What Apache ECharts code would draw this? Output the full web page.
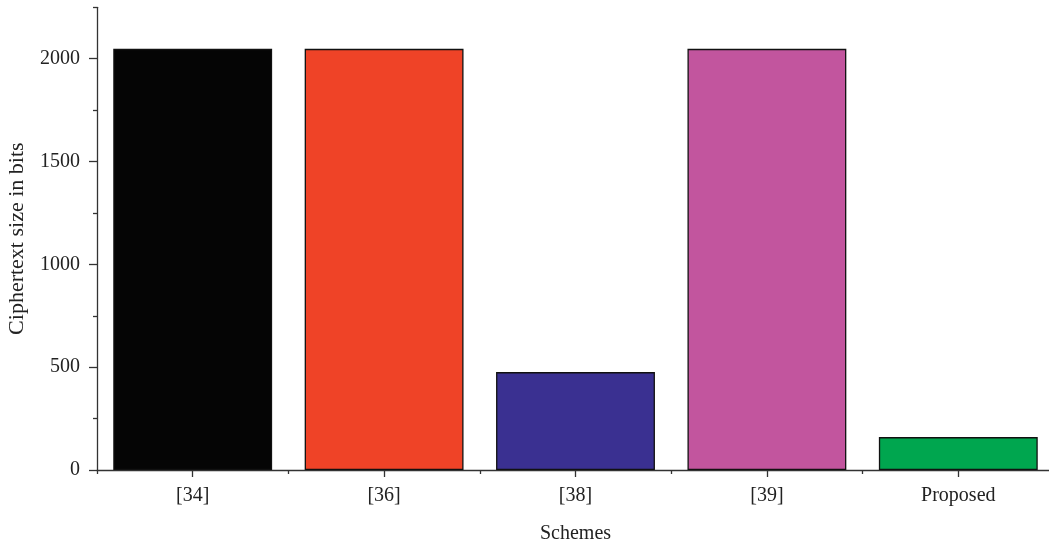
<!DOCTYPE html>
<html>
<head>
<meta charset="utf-8">
<script src="https://cdn.jsdelivr.net/npm/echarts@6/dist/echarts.min.js"></script>
<style>html,body{margin:0;padding:0;background:#fff}#c{width:1049px;height:545px}</style>
</head>
<body>
<div id="c"></div>
<script>
var categories = ['[34]', '[36]', '[38]', '[39]', 'Proposed'];
var values = [2048, 2048, 476, 2048, 160];
var colors = ['#050505', '#EF4327', '#3A3091', '#C2559E', '#00A64F'];
var majorTicks = [0, 500, 1000, 1500, 2000];
var minorTicks = [250, 750, 1250, 1750, 2250];

var font = 'Liberation Serif';
var axisColor = '#333';
var chart = echarts.init(document.getElementById('c'));
chart.setOption({
  animation: false,
  grid: { left: 97, right: -5, top: 7.3, bottom: 75, containLabel: false, outerBoundsMode: 'none' },
  xAxis: [{
    type: 'category', data: categories,
    axisLine: { lineStyle: { color: axisColor, width: 1.3 } },
    axisTick: { show: true, length: 4, lineStyle: { color: axisColor, width: 1.3 } },
    axisLabel: { show: true, margin: 16, color: '#222', fontFamily: font, fontSize: 20 },
    name: 'Schemes', nameLocation: 'middle', nameGap: 54,
    nameTextStyle: { color: '#222', fontFamily: font, fontSize: 20 }
  }, {
    type: 'category', data: categories, position: 'bottom',
    axisLine: { show: false },
    axisTick: { show: true, alignWithLabel: true, length: 7, lineStyle: { color: axisColor, width: 1.3 } },
    axisLabel: { show: false }
  }],
  yAxis: [{
    type: 'value', min: 0, max: 2250, position: 'left',
    splitLine: { show: false },
    axisLine: { show: true, lineStyle: { color: axisColor, width: 1.3 } },
    axisTick: { show: true, length: 8, customValues: majorTicks, lineStyle: { color: axisColor, width: 1.3 } },
    axisLabel: { margin: 17, customValues: majorTicks, color: '#222', fontFamily: font, fontSize: 20,
      formatter: function (v) { return String(v); } },
    name: 'Ciphertext size in bits', nameLocation: 'middle', nameGap: 69,
    nameTextStyle: { color: '#222', fontFamily: font, fontSize: 22 }
  }, {
    type: 'value', min: 0, max: 2250, position: 'left', offset: 0,
    splitLine: { show: false },
    axisLine: { show: false },
    axisTick: { show: true, length: 4, customValues: minorTicks, lineStyle: { color: axisColor, width: 1.3 } },
    axisLabel: { show: false }
  }],
  series: [{
    type: 'bar', xAxisIndex: 0, yAxisIndex: 0,
    barWidth: '83%',
    data: values.map(function (v, i) {
      return { value: v, itemStyle: { color: colors[i], borderColor: '#111', borderWidth: 1.3 } };
    })
  }]
});
</script>
</body>
</html>
